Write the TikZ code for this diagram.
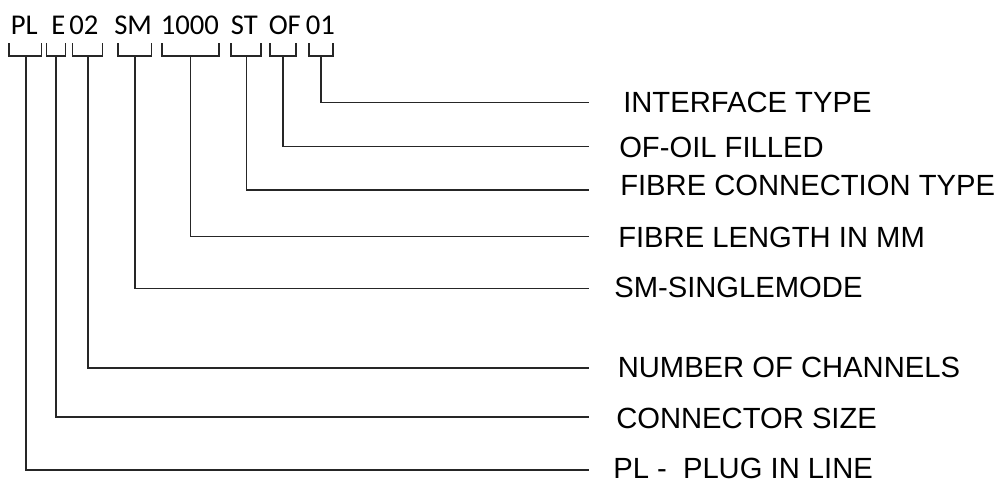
\documentclass[tikz,border=0pt]{standalone}
\usepackage{fontspec}
\setmainfont{Liberation Sans}
\newfontfamily\codefont{Carlito}
\usetikzlibrary{positioning}
\tikzset{
  codetext/.style={font=\codefont\fontsize{21.5}{26}\selectfont, inner sep=0pt, anchor=base west},
  desctext/.style={font=\fontsize{21.9}{26}\selectfont, inner sep=0pt, anchor=west},
  lead/.style={line width=0.8pt, black!85},
}
\begin{document}
\begin{tikzpicture}[x=0.75pt,y=-0.75pt]
  \useasboundingbox (0,0) rectangle (998,483);
  % part number
  \node[codetext] (cPL) at (10.5,34) {PL};
  \node[codetext] (cE) at (51,34) {E};
  \node[codetext] (cCH) at (69,34) {02};
  \node[codetext] (cSM) at (114,34) {SM};
  \node[codetext] (cLEN) at (160.5,34) {1000};
  \node[codetext] (cST) at (230.5,34) {ST};
  \node[codetext] (cOF) at (268.5,34) {OF};
  \node[codetext] (cIF) at (305.5,34) {01};
  % brackets, leaders and descriptions
  \foreach \n/\sx/\bl/\br/\ly/\tx/\ty/\lab in {
      1/26/9/41.7/470/613/468/{PL -\ \ PLUG IN LINE},
      2/56/46.7/65.7/417/616/418/{CONNECTOR SIZE},
      3/88/72.7/102.7/368/617.5/367/{NUMBER OF CHANNELS},
      4/135/118/151.7/288.7/614/287/{SM-SINGLEMODE},
      5/190.7/162/219/236.7/618/237/{FIBRE LENGTH IN MM},
      6/246.7/231/261/190/620/185/{FIBRE CONNECTION TYPE},
      7/283/270/296/146.7/619/147/{OF-OIL FILLED},
      8/321/309/333/102.7/623/102/{INTERFACE TYPE}} {
    \draw[lead] (\bl,43) -- (\bl,56) -- (\br,56) -- (\br,43);
    \coordinate (b\n) at (\sx,56);
    \coordinate (e\n) at (589,\ly);
    \draw[lead] (b\n) |- (e\n);
    \node[desctext] (d\n) at (\tx,\ty) {\lab};
  }
\end{tikzpicture}
\end{document}
